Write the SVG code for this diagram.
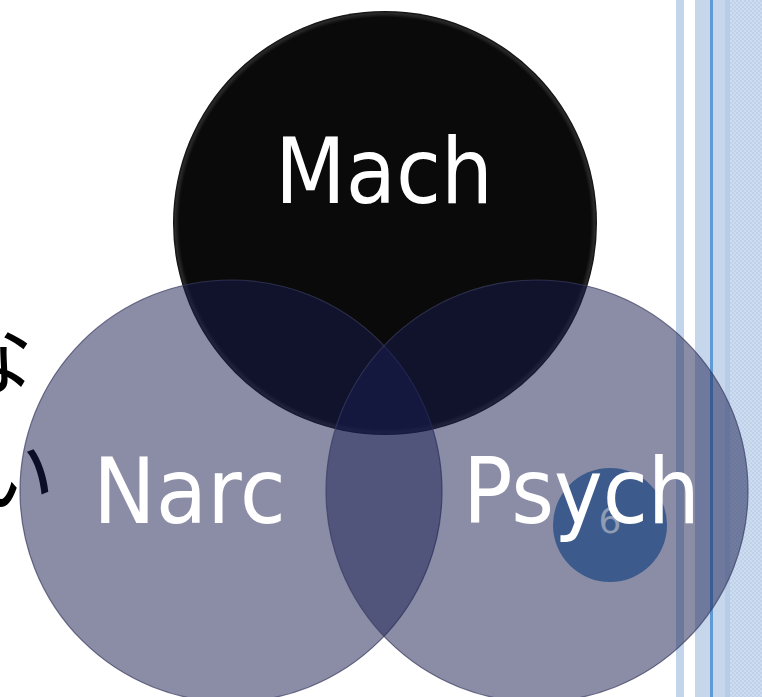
<svg xmlns="http://www.w3.org/2000/svg" width="762" height="697" viewBox="0 0 762 697">
  <defs>
    <pattern id="dither" width="4" height="4" patternUnits="userSpaceOnUse">
      <rect width="4" height="4" fill="#cddcef"/>
      <rect width="2" height="2" fill="#bfd2ea"/>
      <rect x="2" y="2" width="2" height="2" fill="#bfd2ea"/>
    </pattern>
    <radialGradient id="machGrad" cx="0.5" cy="0.5" r="0.5">
      <stop offset="0.97" stop-color="#0a0a0a"/>
      <stop offset="0.99" stop-color="#2a2a2a"/>
      <stop offset="1" stop-color="#0a0a0a"/>
    </radialGradient>
  </defs>
  <style>
    .venn { fill: #181b50; fill-opacity: 0.5; stroke: #3a3c60; stroke-width: 1.2; stroke-opacity: 0.7; }
    .label { font-family: "DejaVu Sans", Verdana, sans-serif; font-size: 90px; fill: #ffffff; }
    .jp { font-family: "Noto Sans CJK JP", sans-serif; font-size: 84px; fill: #000000; }
  </style>

  <rect width="762" height="697" fill="#ffffff"/>

  <g id="stripes">
    <rect x="676" y="0" width="8" height="697" fill="#c3d5eb"/>
    <rect x="695" y="0" width="67" height="697" fill="#c6d7ec"/>
    <rect x="725" y="0" width="5" height="697" fill="#b7cce6"/>
    <rect x="730" y="0" width="32" height="697" fill="url(#dither)"/>
    <rect x="710" y="0" width="3" height="697" fill="#5f9ad6"/>
  </g>

  <g id="jp-text">
    <text class="jp" x="33" y="388" text-anchor="end">な</text>
    <text class="jp" x="55" y="506" text-anchor="end">い</text>
  </g>

  <g id="mach">
    <circle cx="385" cy="223" r="212" fill="url(#machGrad)"/>
  </g>
  <g id="narc">
    <circle class="venn" cx="231" cy="491" r="211"/>
  </g>
  <g id="psych">
    <circle class="venn" cx="537" cy="491" r="211"/>
  </g>

  <g id="slide-number">
    <circle cx="610" cy="525" r="57" fill="#3c5b8c"/>
    <text x="610" y="533" text-anchor="middle" font-family="DejaVu Sans, sans-serif" font-size="36" fill="#8e9cb6">6</text>
  </g>

  <g id="labels">
    <text class="label" x="275" y="203" textLength="218" lengthAdjust="spacingAndGlyphs">Mach</text>
    <text class="label" x="93" y="523" textLength="193" lengthAdjust="spacingAndGlyphs">Narc</text>
    <text class="label" x="463" y="523" textLength="237" lengthAdjust="spacingAndGlyphs">Psych</text>
  </g>
</svg>
